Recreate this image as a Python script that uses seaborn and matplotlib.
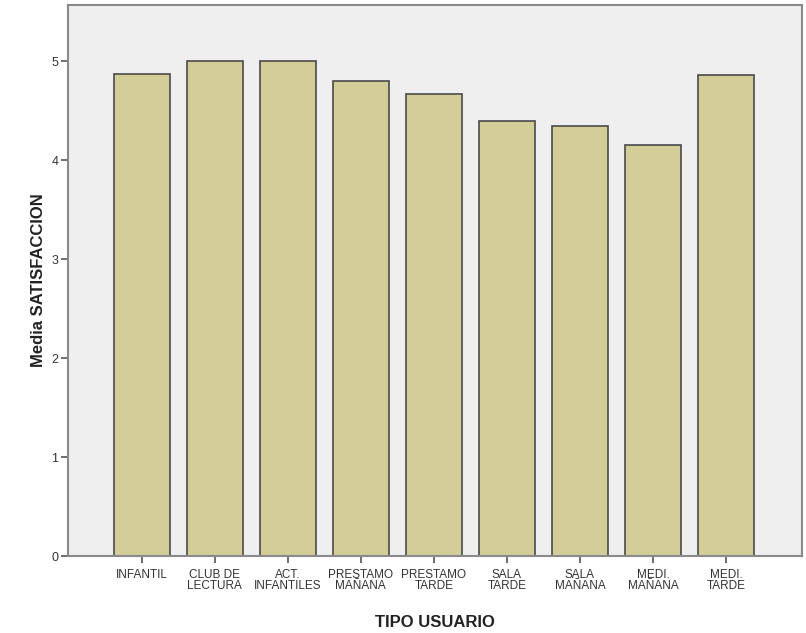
import pandas as pd
import matplotlib.pyplot as plt
import seaborn as sns

# Mean satisfaction by user type
tipos = ['INFANTIL', 'CLUB DE\nLECTURA', 'ACT.\nINFANTILES', 'PRESTAMO\nMAÑANA',
         'PRESTAMO\nTARDE', 'SALA\nTARDE', 'SALA\nMAÑANA', 'MEDI.\nMAÑANA', 'MEDI.\nTARDE']
medias = [4.87, 5.00, 5.00, 4.80, 4.67, 4.40, 4.35, 4.16, 4.86]

df = pd.DataFrame({'TIPO USUARIO': tipos, 'Media SATISFACCION': medias})

sns.set_style('white')
plt.rcParams['font.family'] = ['Liberation Sans', 'DejaVu Sans']

fig = plt.figure(figsize=(8.06, 6.33), dpi=100)
ax = fig.add_axes([0.0844, 0.1216, 0.9106, 0.8704])
ax.set_facecolor('#EFEFEF')

sns.barplot(data=df, x='TIPO USUARIO', y='Media SATISFACCION', color='#D3CE97',
            edgecolor='#4A4A4A', linewidth=1.2, width=0.77, saturation=1, ax=ax)

ax.set_xlim(-1.01, 9.04)
ax.set_ylim(0, 5.57)
ax.set_yticks([0, 1, 2, 3, 4, 5])

for s in ax.spines.values():
    s.set_color('#8A8A8A')
    s.set_linewidth(1.5)

ax.tick_params(axis='both', which='both', bottom=True, left=True, direction='out',
               length=5, width=1.2, color='#555555', labelcolor='#333333',
               labelsize=9, pad=2)
ax.tick_params(axis='x', labelsize=8.5, pad=4)
plt.setp(ax.get_xticklabels(), linespacing=0.9)

ax.set_xlabel('TIPO USUARIO', fontsize=12, fontweight='bold', color='#222222', labelpad=17)
ax.set_ylabel('Media SATISFACCION', fontsize=12, fontweight='bold', color='#222222', labelpad=4)

plt.savefig('out.png', dpi=100)
